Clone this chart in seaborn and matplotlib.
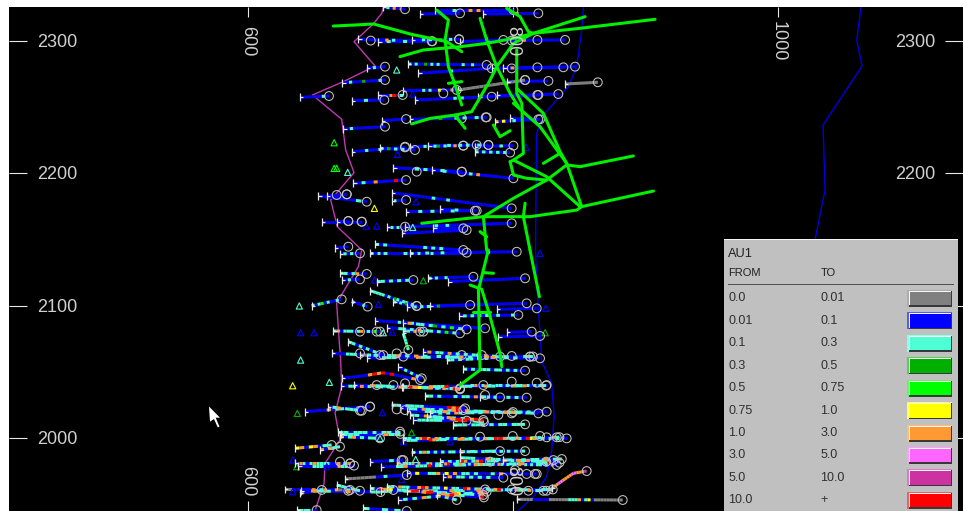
import numpy as np
import pandas as pd
import matplotlib
matplotlib.use("Agg")
import matplotlib.pyplot as plt
from matplotlib.patches import Rectangle, Polygon
from matplotlib.path import Path
import seaborn as sns

# AU1 grade bins, index = digit used in the grade strings below
legend_from = ["0.0", "0.01", "0.1", "0.3", "0.5", "0.75", "1.0", "3.0", "5.0", "10.0"]
legend_to = ["0.01", "0.1", "0.3", "0.5", "0.75", "1.0", "3.0", "5.0", "10.0", "+"]
bin_colors = ["#808080", "#0000ff", "#4dffd2", "#00b000", "#00ff00",
              "#ffff00", "#ff9933", "#ff66ff", "#cc33a0", "#ff0000"]

x_ticks = [600, 800, 1000]
y_ticks = [2000, 2100, 2200, 2300]

# drill holes, collar first
hole_x = [
    [702.1, 718.5], [729.8, 760], [741.1, 800.3], [777.6, 819.1], [683.3, 739.1], [698.4, 738.6],
    [723.5, 759.3], [760, 792.7], [780.1, 839.3], [689.6, 703.4], [721, 780.1], [728.6, 783.9],
    [783.9, 846.8], [792.7, 838], [671.2, 703.4], [639.2, 661.1], [698.4, 716.7], [678.2, 702.9],
    [717.2, 757.5], [726, 783.9], [773.9, 834.2], [787.7, 819.1], [758.8, 809.1], [795.2, 826.7],
    [839.3, 864], [700.9, 719.3], [672, 703.4], [722.3, 780.1], [786.4, 820.4], [797.8, 819.1],
    [678.2, 718.5], [699.6, 726], [722.3, 762.5], [736.1, 781.4], [771.3, 800.3], [771.3, 797.8],
    [709.7, 761.3], [738.6, 800.3], [679.5, 719.3], [708.4, 799], [708.4, 719.3], [719.3, 771.3],
    [744.9, 772.6], [653.1, 689.6], [659.4, 674.5], [655.6, 685.8], [666.9, 675.7], [704.7, 718.5],
    [718.5, 799], [716, 765], [739.9, 762.5], [665.7, 675.7], [695.9, 762.5],
]
hole_y = [
    [2325.5, 2324], [2320.4, 2320.9], [2323.4, 2323.4], [2320.4, 2320.9], [2301.3, 2299.8], [2299.5, 2299.8],
    [2300.8, 2301.3], [2299.5, 2300.8], [2300.3, 2300.8], [2279.3, 2280.6], [2282.6, 2281.9], [2275.6, 2279.3],
    [2279.3, 2280.6], [2279.3, 2280.1], [2268.5, 2270.5], [2257.4, 2258.4], [2259.2, 2259.2], [2254.9, 2255.4],
    [2262.5, 2263], [2255.4, 2257.9], [2257.9, 2259.9], [2259.2, 2259.2], [2263, 2270.5], [2269.3, 2269.8],
    [2267.5, 2268.8], [2239.8, 2241], [2233.5, 2235.2], [2240.8, 2242.3], [2239, 2240.8], [2241.5, 2240.8],
    [2216.3, 2219.6], [2218.9, 2217.6], [2220.1, 2220.9], [2220.9, 2221.4], [2220.1, 2220.9], [2216.3, 2215.6],
    [2204.2, 2201.2], [2202.5, 2196.2], [2192.4, 2194.9], [2185.3, 2173.5], [2179, 2179.8], [2171, 2171.7],
    [2172.7, 2171.7], [2182.8, 2178.5], [2182.8, 2184.1], [2163.4, 2163.4], [2163.4, 2163.9], [2159.6, 2159.6],
    [2159.6, 2162.2], [2154.6, 2157.1], [2158.4, 2158.4], [2143.3, 2144.5], [2146.3, 2142],
]
hole_grades = [
    "1216191", "111111111111", "1111211161611111111", "11111111611111", "1111111161211111111111", "1121112111111",
    "11121211311211", "111111111111", "1111111111611111111111", "112111", "2121131212111111121121111", "1111111121111111111",
    "1111161111111111111111", "111111111111", "1121113111121", "11111121", "1116912", "11121111",
    "11111121211511161", "1111111111121211111111", "611111111111111111111", "1111111111", "0000000000000000", "11111111111",
    "00000000000", "11111111", "1121111111111", "1111111311121211211", "6151121111111", "1111111",
    "1111211121111111", "2131212111", "1111211231211611", "1111121121211211", "11111112111", "2121212121",
    "1111121211121111", "1112111111216111111111", "1121161111911", "111111111112111211111111111111111", "121111", "11121121111211111",
    "1111211111", "111111121", "111111", "1111111111", "1111", "121211",
    "11111111211211111111111111111", "11111111111111111", "111111111", "1111", "2121111111112121211111",
]
hole_x += [
    [669.4, 684.5], [692.1, 765], [722.3, 802.8], [669.4, 689.6], [670.7, 684.5], [697.1, 724.8],
    [736.1, 770.1], [751.2, 809.1], [692.1, 727.3], [648, 670.7], [678.2, 690.3], [709.7, 727.3],
    [719.8, 767.6], [737.4, 810.3], [787.7, 817.9], [759.5, 804], [695.9, 778.9], [717.2, 765],
    [664.4, 699.6], [704.7, 760], [717.2, 732.3], [795.2, 814.1], [789, 820.4], [675.7, 702.1],
    [717.2, 721], [663.1, 717.2], [684.5, 820.4], [732.3, 790.2], [750, 812.8], [713.5, 731.1],
    [762.5, 809.1], [670.7, 685.8, 702.1, 729.8], [669.9, 760], [717.2, 760], [760, 825.4], [733.6, 810.3],
    [775.1, 790.2], [643, 692.1], [660.6, 685.8], [708.4, 763.8], [714.7, 819.1], [737.4, 825.4],
    [722.3, 777.6], [724.8, 765], [755, 809.1], [668.2, 714.7], [669.4, 699.6], [717.2, 840.5],
]
hole_y += [
    [2139, 2139.5], [2140, 2140], [2139.5, 2140.7], [2124.4, 2123.9], [2119.3, 2119.8], [2118.1, 2119.3],
    [2120.6, 2121.8], [2118.1, 2120.6], [2111.3, 2099.7], [2099.9, 2104.7], [2103, 2099.2], [2103, 2099.7],
    [2098.7, 2100.4], [2099.7, 2101.7], [2097.1, 2097.9], [2092.1, 2092.9], [2088.6, 2082.8], [2087.1, 2082],
    [2080.8, 2080.3], [2083.3, 2079], [2080.8, 2080.3], [2079.8, 2080.3], [2076.5, 2077], [2072.7, 2062.6],
    [2079, 2066.4], [2063.9, 2061.4], [2062.6, 2060.1], [2065.1, 2061.4], [2058.8, 2061.4], [2053.8, 2045],
    [2052, 2050.8], [2045, 2046.7, 2049.3, 2043.7], [2039.2, 2037.4], [2038.7, 2036.7], [2039.9, 2039.9], [2031.6, 2030.4],
    [2031.1, 2030.6], [2019.8, 2023.6], [2023.6, 2020.5], [2024.8, 2022.3], [2022.3, 2018.5], [2018.5, 2019.8],
    [2017.3, 2013.5], [2013.5, 2013], [2009.7, 2010.2], [2004.7, 2004.7], [2000.9, 1999.6], [1999.6, 1999.6],
]
hole_grades += [
    "121211", "21212111112121211121111111111", "1111211121111111111121111111", "2212611", "112111", "221212121",
    "21211211111111", "1111111111111111111111", "2222212132122121", "2124121121", "211121", "21213121",
    "1121212113111111111", "111111111111111111111111111", "111111111111", "1212121211211121", "1111111211121111111111111111111111", "161221231214121",
    "26122212612141", "1112212161221214121", "221612", "1111111", "11111111111", "2212121211",
    "222242", "11112221112111111111", "0012112261216121121211612151161121211111", "1612216121212216121", "2212122121211111111111", "11212121",
    "2121222122121211", "111111696919111161", "1122161212212216121212261212161", "2216521612161196", "1112612121221216221212121", "2212111212216121111121211",
    "212121", "111116122111111", "12612221", "2212222111119691", "11221622121269161222122162221221", "11212162122121121221622121111",
    "2216122162129699", "1222222111696", "2221222121221222", "2212221212212", "6126121221", "2212696162121216121212216961212195612121211",
]
hole_x += [
    [635.5, 663.1], [654.3, 669.4], [723.5, 809.1], [760, 790.2], [635.5, 677], [692.1, 717.2],
    [712.2, 833], [744.9, 830.5], [792.7, 836.8], [673.2, 719.8], [719.8, 817.9], [747.4, 792.7],
    [627.9, 677], [666.9, 684.5], [692.1, 777.6], [704.7, 825.4], [639.2, 655.6], [713.5, 780.1],
    [742.4, 757.5], [802.8, 882.8], [829.2, 838, 845.5, 855.6], [636.7, 651.8], [687, 719.8],
    [638, 680], [700, 835], [760, 825], [640, 700], [700, 830], [720, 778],
    [720, 800], [735, 778], [716, 825], [680, 760], [690, 815], [670, 715], [717, 835],
]
hole_y += [
    [1992.1, 1994.6], [1990.8, 1993.3], [1989, 1990], [1989.5, 1990], [1980.7, 1980.7], [1982, 1983.2],
    [1980.7, 1979.5], [1982, 1983.2], [1983.2, 1984], [1968.9, 1971.9], [1973.2, 1972.7], [1970.6, 1969.9],
    [1961, 1960.6], [1964.3, 1960], [1961.8, 1956.8], [1963.1, 1960], [1958, 1960.6], [1953, 1959.3],
    [1956.8, 1953], [1953.5, 1953], [1961.8, 1968.1, 1973.2, 1974.9], [1945.4, 1945.4], [1946.7, 1944.7],
    [1979, 1979], [1978, 1981.2], [1985, 1982], [1960, 1959], [1959.5, 1961], [1960, 1955],
    [2020, 2019.5], [2016, 2012], [2038.5, 2039.5], [2040, 2037], [2060.5, 2061.5], [2003, 2003], [1998, 2000.5],
]
hole_grades += [
    "56156122", "61622", "2126212121221612121211212121212", "21211221", "1621262222116126", "1111211",
    "612226161126122169122621212261222162121216121212212161", "21212961269122216121226121221", "2211212216122", "0000000011211111", "1151122615161221211121611111111", "16122121212111",
    "00111116126116012", "22122", "2196512212216912216512216", "221622116961221512219612212169122122161221", "01161", "1212162121696122169",
    "61212", "000001111100000022261251000000000", "666776666776668", "221", "2112121",
    "1111222111162211", "1111226112229122111222116222111112226111222911", "22211622111611222", "1162221116111122", "222111269912222111622211169122221116222111222", "1116911622221119",
    "111222611122261112", "2221699122", "2221111622291112221116221111222611122", "11162221119622111122", "1112221111622111222111116122211122", "2221111622", "1222111962221116222111622911222611122211162",
]

# contours
magenta_x = [702.5, 702.1, 700.9, 694.6, 680, 695.9, 672, 648.6, 670.7, 673.7, 680, 662.4, 667.4, 685.8,
             683.3, 675.7, 666.9, 668.2, 669.9, 670.7, 665.7, 669.4, 658.1, 657.4, 650.6]
magenta_y = [2326, 2325.5, 2320.9, 2312.9, 2299.5, 2281.1, 2269.3, 2259.2, 2240.8, 2217.6, 2200.5, 2179.8, 2159.6, 2142,
             2129.4, 2116.8, 2101.7, 2081.5, 2058.8, 2038.7, 2018.5, 1998.4, 1980.7, 1965.6, 1945]
blue_x = [853.2, 853.1, 851.8, 848.1, 841.8, 822.9, 817.9, 817.4, 817, 817.9, 820.4, 821.7, 829.2, 831, 829.2, 825.4, 815.4, 804]
blue_y = [2326, 2324.7, 2308.3, 2280.6, 2265.5, 2244, 2230.2, 2192.4, 2142, 2116.8, 2079, 2057.6, 2041.2, 2016, 1990.8, 1970.6, 1955.5, 1945]
blue2_x = [1062.6, 1059.4, 1063.4, 1034, 1035.5, 1027.9, 1024]
blue2_y = [2325.7, 2300.8, 2281, 2236.5, 2187.4, 2149.6, 2120]

# bright green workings
green_x = [
    [664.4, 680.8, 694.6, 723.5, 750, 761.3], [714.7, 732.3, 760, 780.1, 800.3, 815.4, 854.4],
    [742.4, 751.2, 748.7, 751.2, 755, 761.3], [775.1, 780.1, 787.7, 797.8, 804],
    [795.2, 805.3, 811.6, 815.4, 850.6, 907.2], [802.8, 802.8, 806.6, 807.8, 800.3, 797.8],
    [723.5, 737.4, 756.2, 768.8, 781.4, 787.7, 800.3, 815.4], [756.2, 763.8],
    [802.8, 822.9, 835.5, 840.5, 851.8], [840.5, 850.6, 890.8], [822.9, 835.5],
    [800.3, 820.4, 840.5], [800.3, 825.4, 850.6], [797.8, 800.3, 810.3, 825.4, 840.5],
    [731.1, 777.6, 800.3, 825.4], [777.6, 812.8, 848.1, 851.8, 906], [777.6, 780.1], [775.1, 780.1],
    [809.1, 807.8, 812.8], [785.2, 790.2, 797.8], [751.2, 761.3],
    [781.4, 777.6, 773.9, 775.1, 760], [777.6, 785.2], [767.6, 776.4, 782.7, 790.2, 791.5],
    [812.8, 819.9], [770.1, 782.7],
]
green_y = [
    [2311.3, 2312.1, 2312.9, 2305, 2299.5, 2291.9], [2288.2, 2293.2, 2295.7, 2298.2, 2302, 2305.8, 2318.4],
    [2323.4, 2315.9, 2300.8, 2280.6, 2270.5, 2251.6], [2317.1, 2300.8, 2280.6, 2260.4, 2250.4],
    [2324.7, 2318.4, 2307, 2305.8, 2309.6, 2316.4], [2293.2, 2260.4, 2252.9, 2215, 2210, 2208.8],
    [2237.3, 2241.5, 2244, 2246.6, 2268, 2280.6, 2298.2, 2305.8], [2244, 2234],
    [2264.2, 2245.3, 2216.3, 2207.5, 2174.8], [2206.3, 2205, 2213.1], [2207.5, 2215.1],
    [2252.9, 2235.2, 2207.5], [2210, 2197.4, 2174.8], [2208.8, 2198.7, 2196.2, 2194.9, 2206.3],
    [2162.2, 2167.2, 2181.1, 2194.9], [2167.2, 2167.2, 2172.2, 2174.8, 2186.6], [2167.2, 2142], [2155.9, 2152],
    [2177.3, 2167.2, 2142], [2236.5, 2227.7, 2232.2], [2268, 2269.3],
    [2142, 2126.9, 2111.8, 2051.3, 2039.9], [2124.9, 2124.4], [2115.5, 2112.3, 2091.6, 2063.9, 2053.8],
    [2142, 2106.7], [2095.4, 2095.4],
]

# surface samples (triangles)
tri_x = [712.2, 724.3, 665, 665, 666.9, 675.2, 712.7, 726.8, 695.4, 809.8, 689.1, 697.1, 724.3,
         638.7, 698.4, 639.7, 649.8, 702.1, 708.9, 639.7, 633.7, 661.4, 637.2, 701.4, 824.7, 824.2,
         732.3, 695.4, 820.4, 633.7, 636.7, 659.4, 723.5, 699.6, 726.5, 716, 633.7, 752.5, 717.2]
tri_y = [2278.1, 2259.9, 2223.1, 2203.7, 2203.7, 2200.7, 2214.3, 2178.5, 2173.5, 2219.6, 2160.1, 2160.1, 2159.1,
         2099.7, 2100.9, 2079.5, 2079.5, 2079.5, 2079.8, 2058.8, 2039.4, 2042, 2018.5, 2019, 2097.9, 2079.5,
         2118.8, 2119.3, 2139.5, 1983.2, 1978.2, 1978.2, 2003.9, 1999.6, 1983.7, 1968.6, 1959.3, 1997.1, 1997.1]
tri_bin = [2, 1, 4, 4, 4, 2, 1, 1, 5, 1, 1, 1, 2,
           2, 1, 1, 1, 2, 1, 2, 5, 2, 3, 1, 1, 3,
           3, 1, 1, 1, 3, 1, 3, 2, 2, 1, 1, 1, 1]

# circles that sit along the holes
extra_x = [692.1, 684.5, 712.2, 718.5, 697.1, 684.5, 729.8, 684.5, 699.6, 712.2, 761.3, 776.4, 799, 812.8, 788.9,
           799, 775.1, 799.8, 820.4, 825.4, 833, 716, 669.4, 677, 782.7, 801.5, 810.3, 816.6, 778.9, 799, 811.6,
           822.9, 675.7, 709.7, 697.1, 709.7, 718.5, 777.6, 799, 817.9, 778.9, 762.5, 799, 818.4, 759.3, 799,
           818.4, 692.6, 809.1, 818.4, 747.4, 761.3, 779.4, 762.5, 772.6, 781.4, 718.5, 727.3, 761.3, 666.9, 674.5, 685.8, 675.7]
extra_y = [2023.6, 2020.5, 2021.5, 2021, 2080.3, 2080.3, 2080.3, 2063.9, 2062.6, 2063.9, 2062.6, 2062.6, 2061.9, 2061.4, 2017.3,
           2018.5, 2000.9, 2001.4, 2001.4, 2000.4, 2000.4, 1983.2, 1982, 1980.7, 1982, 1975.7, 1972.7, 1972.7, 1961, 1961, 1960,
           1960, 1960, 1960.6, 2039.9, 2039.9, 2041.2, 2039.9, 2042.5, 2041.7, 2032.4, 2021, 2300.3, 2300.8, 2301.3, 2279.3,
           2280.1, 2300.3, 2270.5, 2259.2, 2260.4, 2241.5, 2242.3, 2220.9, 2221.4, 2221.4, 2220.1, 2201.2, 2201.2, 2183.6, 2184.1, 2163.4, 2163.9]


def hole_intervals():
    rows = []
    seg = 0
    for xs, ys, grades in zip(hole_x, hole_y, hole_grades):
        d = np.r_[0, np.cumsum(np.hypot(np.diff(xs), np.diff(ys)))]
        stations = np.linspace(0, d[-1], len(grades) + 1)
        sx = np.interp(stations, d, xs)
        sy = np.interp(stations, d, ys)
        for i, g in enumerate(grades):
            rows.append((seg, int(g), sx[i], sy[i]))
            rows.append((seg, int(g), sx[i + 1], sy[i + 1]))
            seg += 1
    return pd.DataFrame(rows, columns=["seg", "grade", "x", "y"])


def polylines(xs, ys):
    rows = []
    for n, (lx, ly) in enumerate(zip(xs, ys)):
        rows += [(n, a, b) for a, b in zip(lx, ly)]
    return pd.DataFrame(rows, columns=["line", "x", "y"])


def px(x, y):
    return x / 964, 1 - y / 511


def fig_rect(fig, x0, y0, x1, y1, color, zorder=10):
    fig.add_artist(Rectangle(px(x0, y1), (x1 - x0) / 964, (y1 - y0) / 511, transform=fig.transFigure,
                             fc=color, ec="none", zorder=zorder))


def tint(color):
    c = np.array(matplotlib.colors.to_rgb(color))
    return tuple(c * 0.65 + 0.35)


def draw_legend(fig):
    fig_rect(fig, 724, 239, 957.5, 511, "#c0c0c0")
    fig_rect(fig, 724, 239, 957.5, 240, "#f4f4f4", 11)
    fig_rect(fig, 728, 284, 954, 285, "#505050", 11)
    fig.text(*px(728, 254), "AU1", fontsize=9.2, color="#202020", va="center", zorder=12)
    fig.text(*px(728.5, 273), "FROM", fontsize=8, color="#202020", va="center", zorder=12)
    fig.text(*px(821, 273), "TO", fontsize=8, color="#202020", va="center", zorder=12)
    for n, (a, b, c) in enumerate(zip(legend_from, legend_to, bin_colors)):
        y = 298.3 + n * 22.45
        fig.text(*px(728.5, y), a, fontsize=9, color="#303030", va="center", zorder=12)
        fig.text(*px(820.5, y), b, fontsize=9, color="#303030", va="center", zorder=12)
        fig_rect(fig, 907, y - 8.5, 952, y + 8.5, tint(c), 11)
        fig_rect(fig, 909, y - 7.5, 952, y + 8.5, "#383838", 12)
        fig_rect(fig, 908.5, y - 7.5, 951, y + 7, "#f8f8f8", 13)
        fig_rect(fig, 909.5, y - 6.5, 951, y + 7, c, 14)


def draw_cursor(fig):
    tip = [(209, 406.5), (210, 421.7), (214, 419), (217.7, 427.3), (219.5, 426.7), (215.7, 417.7), (220, 417.7)]
    fig.add_artist(Polygon([px(*p) for p in tip], closed=True, transform=fig.transFigure,
                           fc="white", ec="none", zorder=9))


def plot_map():
    sns.set_style("ticks")
    plt.rcParams["font.family"] = ["Liberation Sans", "DejaVu Sans"]

    fig = plt.figure(figsize=(9.64, 5.11), dpi=100, facecolor="white")
    ax = fig.add_axes([9 / 964, 0, 954 / 964, 504 / 511], facecolor="black")

    # contours
    for lx, ly, col, lw in [(magenta_x, magenta_y, "#c038b0", 1.0), (blue_x, blue_y, "#0000e0", 1.0),
                            (blue2_x, blue2_y, "#0000e0", 1.0)]:
        sns.lineplot(x=lx, y=ly, sort=False, estimator=None, color=col, lw=lw, ax=ax, zorder=1)

    # assay intervals coloured by grade
    df = hole_intervals()
    sns.lineplot(data=df, x="x", y="y", hue="grade", units="seg", estimator=None, sort=False,
                 palette=dict(enumerate(bin_colors)), hue_order=[1, 0, 2, 3, 4, 5, 6, 7, 8, 9], lw=2.2,
                 legend=False, ax=ax, zorder=2, solid_capstyle="butt")

    # collars and hole ends
    collar = Path([(0, -1), (0, 1), (0, 0), (0.8, 0)], [Path.MOVETO, Path.LINETO, Path.MOVETO, Path.LINETO])
    sns.scatterplot(x=[p[0] for p in hole_x], y=[p[0] for p in hole_y], marker=collar, s=32,
                    facecolor="none", edgecolor="#e8e8e8", linewidth=0.9, ax=ax, zorder=4)
    end_x = [p[-1] for p in hole_x] + extra_x
    end_y = [p[-1] for p in hole_y] + extra_y
    sns.scatterplot(x=end_x, y=end_y, marker="o", s=40, facecolor="none", edgecolor="#c4c4c4",
                    linewidth=0.75, ax=ax, zorder=4)

    # surface samples
    tri = pd.DataFrame({"x": tri_x, "y": tri_y, "grade": tri_bin})
    for g, part in tri.groupby("grade"):
        sns.scatterplot(data=part, x="x", y="y", marker="^", s=20, facecolor="none",
                        edgecolor=bin_colors[g], linewidth=0.8, ax=ax, zorder=3)

    # workings
    sns.lineplot(data=polylines(green_x, green_y), x="x", y="y", units="line", estimator=None, sort=False,
                 color="#00f000", lw=2.2, ax=ax, zorder=5)

    ax.set_xlim(419.6, 1139.6)
    ax.set_ylim(1944.7, 2325.7)
    ax.set_xticks(x_ticks)
    ax.set_yticks(y_ticks)
    ax.set_xlabel("")
    ax.set_ylabel("")
    ax.tick_params(axis="x", direction="in", length=7, width=0.8, color="#e8e8e8", top=True, bottom=True,
                   labelbottom=False)
    ax.tick_params(axis="y", direction="in", length=13, width=0.8, color="#e8e8e8", left=True, right=True,
                   labelleft=False)
    for s in ax.spines.values():
        s.set_visible(False)

    label_style = dict(textcoords="offset pixels", ha="center", va="center", color="#d0d0d0",
                       fontsize=13, zorder=6)
    for v in x_ticks:
        ax.annotate(str(v), xy=(v, 1), xycoords=("data", "axes fraction"), xytext=(0, -34.5),
                    rotation=-90, **label_style)
        ax.annotate(str(v), xy=(v, 0), xycoords=("data", "axes fraction"), xytext=(0, 30),
                    rotation=-90, **label_style)
    for v in y_ticks:
        ax.annotate(str(v), xy=(0, v), xycoords=("axes fraction", "data"), xytext=(48, -1.5), **label_style)
        ax.annotate(str(v), xy=(1, v), xycoords=("axes fraction", "data"), xytext=(-47.5, -1.5), **label_style)

    draw_legend(fig)
    draw_cursor(fig)
    fig.savefig("out.png", dpi=100)
    plt.close(fig)


if __name__ == "__main__":
    plot_map()
